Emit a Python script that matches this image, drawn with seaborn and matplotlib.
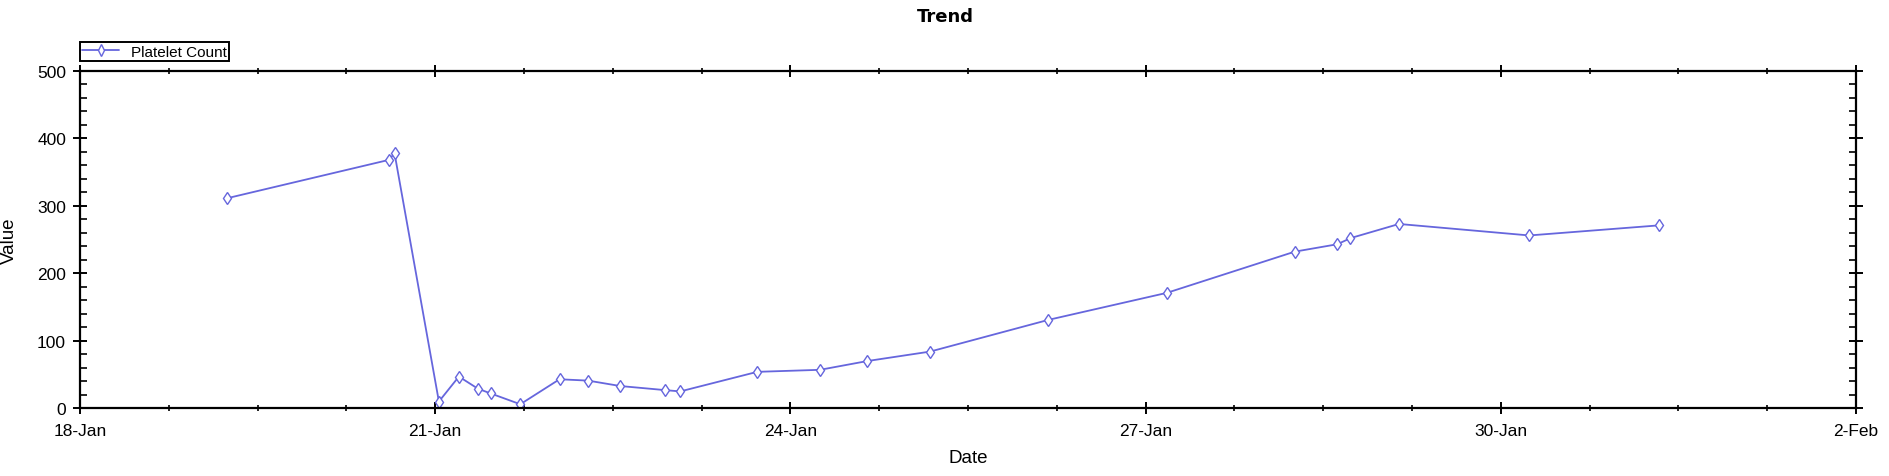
import pandas as pd
import matplotlib
matplotlib.use("Agg")
import matplotlib.pyplot as plt
import matplotlib.ticker as mticker
import matplotlib.dates as mdates
import seaborn as sns

# ------------------------------------------------------------
# Data
# ------------------------------------------------------------
timestamps = [
    "2024-01-19 05:45", "2024-01-20 14:40", "2024-01-20 15:45",
    "2024-01-21 00:45", "2024-01-21 04:48", "2024-01-21 08:40",
    "2024-01-21 11:15", "2024-01-21 17:15", "2024-01-22 01:12",
    "2024-01-22 07:00", "2024-01-22 13:30", "2024-01-22 22:30",
    "2024-01-23 01:40", "2024-01-23 17:17", "2024-01-24 06:00",
    "2024-01-24 15:36", "2024-01-25 04:19", "2024-01-26 04:19",
    "2024-01-27 04:19", "2024-01-28 06:14", "2024-01-28 14:53",
    "2024-01-28 17:31", "2024-01-29 03:22", "2024-01-30 05:46",
    "2024-01-31 08:10",
]
platelet_count = [
    311, 368, 378, 10, 47, 29, 22, 6, 43, 41, 33, 27, 25,
    54, 57, 70, 84, 131, 171, 232, 243, 252, 273, 256, 271,
]
series_name = "Platelet Count"

df = pd.DataFrame({"Date": pd.to_datetime(timestamps), "Value": platelet_count})

# ------------------------------------------------------------
# Plot
# ------------------------------------------------------------
sns.set_style("white")
plt.rcParams["font.family"] = ["Liberation Sans", "DejaVu Sans"]
plt.rcParams["text.color"] = "black"
plt.rcParams["axes.labelcolor"] = "black"
plt.rcParams["xtick.color"] = "black"
plt.rcParams["ytick.color"] = "black"

line_color = "#6666dd"

fig = plt.figure(figsize=(18.9, 4.77), dpi=100)
ax = fig.add_axes([80 / 1890, 1 - 409.3 / 477, (1856 - 80) / 1890, (409.3 - 71.7) / 477])

sns.lineplot(
    data=df, x="Date", y="Value", ax=ax,
    color=line_color, linewidth=1.3,
    marker="d", markersize=6.5, markerfacecolor="white",
    markeredgecolor=line_color, markeredgewidth=1.0,
    label=series_name,
)

ax.set_xlim(pd.Timestamp("2024-01-18"), pd.Timestamp("2024-02-02"))
ax.set_ylim(0, 500)

major_days = pd.date_range("2024-01-18", "2024-02-02", freq="3D")
minor_days = pd.date_range("2024-01-18", "2024-02-02", freq="18h")
ax.xaxis.set_major_locator(mticker.FixedLocator(mdates.date2num(major_days)))
ax.xaxis.set_minor_locator(mticker.FixedLocator(mdates.date2num(minor_days)))
ax.xaxis.set_major_formatter(
    mticker.FuncFormatter(lambda v, pos: f"{mdates.num2date(v).day}-{mdates.num2date(v):%b}")
)
ax.yaxis.set_major_locator(mticker.MultipleLocator(100))
ax.yaxis.set_minor_locator(mticker.MultipleLocator(20))

for side in ["left", "right", "top", "bottom"]:
    ax.spines[side].set_visible(True)
    ax.spines[side].set_color("black")
    ax.spines[side].set_linewidth(1.6)

ax.tick_params(axis="x", which="major", direction="inout", length=9, width=1.4,
               top=True, bottom=True, labelsize=12.5, pad=6)
ax.tick_params(axis="x", which="minor", direction="inout", length=5, width=1.2,
               top=True, bottom=True)
ax.tick_params(axis="y", which="major", direction="inout", length=10, width=1.4,
               left=True, right=True, labelsize=12.5, pad=5)
ax.tick_params(axis="y", which="minor", direction="in", length=5, width=1.2,
               left=True, right=True)

ax.set_xlabel("Date", fontsize=13.5, labelpad=8)
ax.set_ylabel("Value", fontsize=13.5, labelpad=14)
fig.text(945 / 1890, 1 - 17 / 477, "Trend", ha="center", va="center",
         fontsize=13, fontweight="bold", family="DejaVu Sans")

ax.legend(
    loc="lower left", bbox_to_anchor=(0, 1.029), borderaxespad=0,
    fontsize=11, frameon=True, fancybox=False, framealpha=1,
    edgecolor="black", handlelength=2.4, handletextpad=0.8,
    borderpad=0.15, markerscale=0.9,
)
ax.get_legend().get_frame().set_linewidth(1.4)

plt.savefig("out.png", dpi=100)
plt.close()
